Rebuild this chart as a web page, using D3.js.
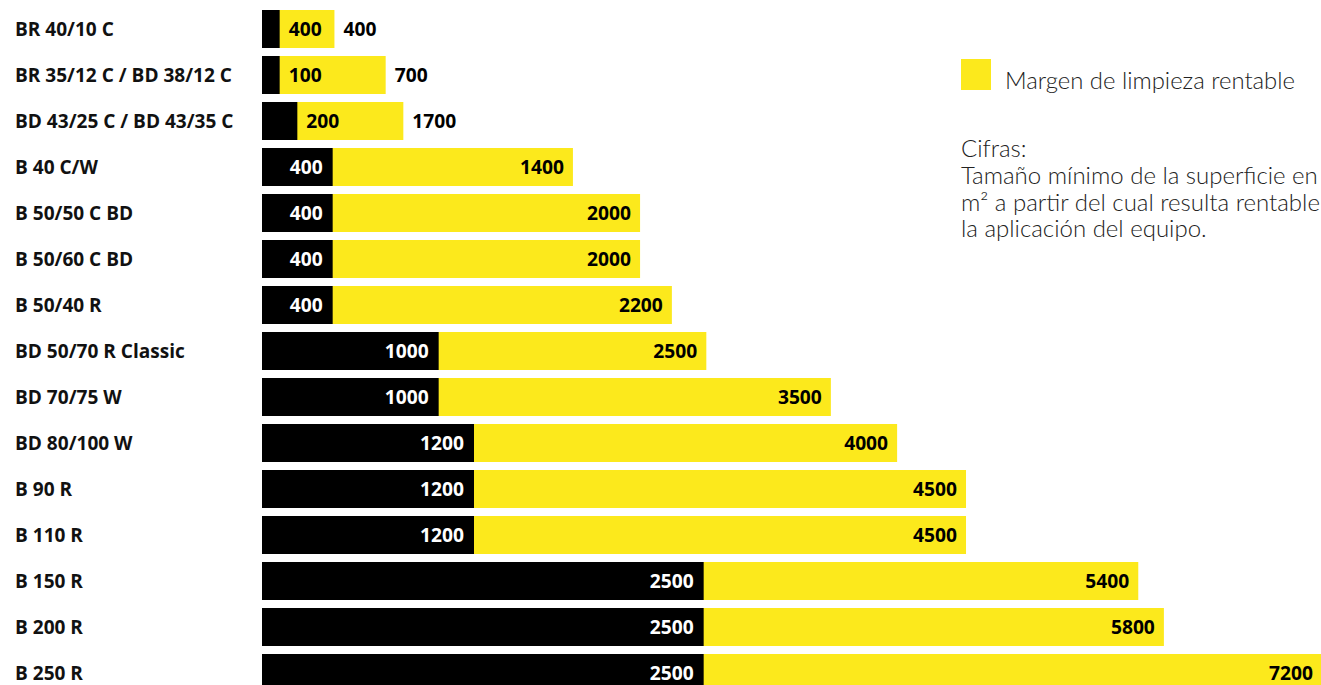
<!DOCTYPE html>
<html><head><meta charset="utf-8">
<script src="https://cdn.jsdelivr.net/npm/d3@7"></script>
<style>html,body{margin:0;padding:0;background:#fff;overflow:hidden}</style>
</head><body>
<svg id="chart" width="1321" height="685"></svg>
<script>
// ---- data ----
const categories = ["BR 40/10 C","BR 35/12 C / BD 38/12 C","BD 43/25 C / BD 43/35 C","B 40 C/W","B 50/50 C BD","B 50/60 C BD","B 50/40 R","BD 50/70 R Classic","BD 70/75 W","BD 80/100 W","B 90 R","B 110 R","B 150 R","B 200 R","B 250 R"];
const lowLabels  = [400,100,200,400,400,400,400,1000,1000,1200,1200,1200,2500,2500,2500];
const highLabels = [400,700,1700,1400,2000,2000,2200,2500,3500,4000,4500,4500,5400,5800,7200];
// drawn extents (the picture is not to a uniform scale; read off in the same units)
const blackExtent  = [100,100,200,400,400,400,400,1000,1000,1200,1200,1200,2500,2500,2500];
const yellowExtent = [410,700,800,1760,2140,2140,2320,2515,3220,3595,3985,3985,4960,5105,6000];
const legendLabel = "Margen de limpieza rentable";
const noteLines = ["Cifras:","Tamaño mínimo de la superficie en","m² a partir del cual resulta rentable","la aplicación del equipo."];

const YELLOW = "#fce91c", BLACK = "#000";
const svg = d3.select("#chart");

function fitSize(text, family, weight, target){
  const t = svg.append("text").attr("font-family",family).attr("font-weight",weight).attr("font-size",20).text(text);
  const w = t.node().getComputedTextLength(); t.remove();
  return 20*target/w;
}
const catFont = "'Open Sans', 'DejaVu Sans', sans-serif";
const catSize = fitSize("BR 35/12 C / BD 38/12 C", catFont, 700, 217);
const valSize = fitSize("1400", catFont, 700, 44);
const legFont = "Lato, 'Open Sans', sans-serif";
const legSize = fitSize(legendLabel, legFont, 300, 290);
const noteSize = fitSize(noteLines[1], legFont, 300, 357);

const x = d3.scaleLinear().domain([0,6000]).range([262,1322]);
const y = d3.scaleBand().domain(categories).range([10,692]).paddingInner(8/46).paddingOuter(0);

const rows = categories.map((c,i)=>({c, lo:lowLabels[i], hi:highLabels[i], b:blackExtent[i], e:yellowExtent[i]}));

const g = svg.append("g");
// category labels
g.selectAll("text.cat").data(rows).join("text").attr("class","cat")
  .attr("x",15).attr("y",d=>y(d.c)+y.bandwidth()/2).attr("dy","0.35em")
  .attr("font-family",catFont).attr("font-weight",700).attr("font-size",catSize).attr("fill","#111")
  .text(d=>d.c);
// yellow bars
g.selectAll("rect.yel").data(rows).join("rect").attr("class","yel")
  .attr("x",x(0)).attr("y",d=>y(d.c)).attr("height",y.bandwidth())
  .attr("width",d=>x(d.e)-x(0)).attr("fill",YELLOW);
// black bars
g.selectAll("rect.blk").data(rows).join("rect").attr("class","blk")
  .attr("x",x(0)).attr("y",d=>y(d.c)).attr("height",y.bandwidth())
  .attr("width",d=>x(d.b)-x(0)).attr("fill",BLACK);

const small = d => x(d.b)-x(0) < 50;
// low labels
g.selectAll("text.lo").data(rows).join("text").attr("class","lo")
  .attr("x",d=> small(d) ? x(d.b)+9 : x(d.b)-10)
  .attr("text-anchor",d=> small(d) ? "start" : "end")
  .attr("y",d=>y(d.c)+y.bandwidth()/2).attr("dy","0.36em")
  .attr("font-family",catFont).attr("font-weight",700).attr("font-size",valSize)
  .attr("fill",d=> small(d) ? "#000" : "#fff").text(d=>d.lo);
// high labels
g.selectAll("text.hi").data(rows).join("text").attr("class","hi")
  .attr("x",d=> small(d) ? x(d.e)+9 : x(d.e)-9)
  .attr("text-anchor",d=> small(d) ? "start" : "end")
  .attr("y",d=>y(d.c)+y.bandwidth()/2).attr("dy","0.36em")
  .attr("font-family",catFont).attr("font-weight",700).attr("font-size",valSize)
  .attr("fill","#000").text(d=>d.hi);

// legend
svg.append("rect").attr("x",961).attr("y",59).attr("width",30).attr("height",31).attr("fill",YELLOW);
svg.append("text").attr("x",1005).attr("y",89).attr("font-family",legFont).attr("font-weight",300)
  .attr("font-size",legSize).attr("fill","#222").text(legendLabel);
svg.append("g").selectAll("text").data(noteLines).join("text")
  .attr("x",961).attr("y",(d,i)=>157+i*26.8).attr("font-family",legFont).attr("font-weight",300)
  .attr("font-size",noteSize).attr("fill","#222").text(d=>d);
</script>
</body></html>
